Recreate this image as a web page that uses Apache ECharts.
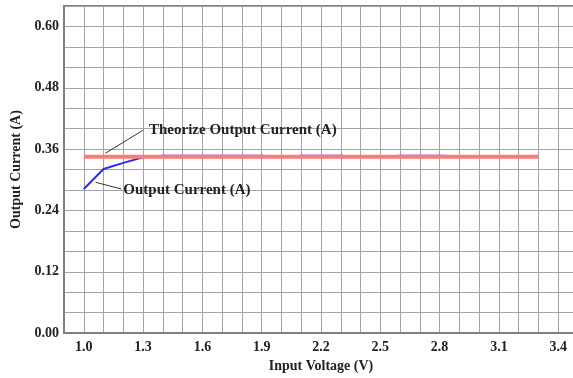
<!DOCTYPE html>
<html>
<head>
<meta charset="utf-8">
<script src="https://cdn.jsdelivr.net/npm/echarts@6/dist/echarts.min.js"></script>
<style>
  html, body { margin: 0; padding: 0; background: #fff; overflow: hidden; }
  #main { width: 592px; height: 378px; }
</style>
</head>
<body>
<div id="main"></div>
<script>
// input voltage (V) for measured output current
var voltage = [1.0, 1.1, 1.2, 1.3, 1.4, 1.5, 1.6, 1.7, 1.8, 1.9, 2.0, 2.1, 2.2, 2.3, 2.4, 2.5, 2.6, 2.7, 2.8, 2.9, 3.0];
var outputCurrent = [0.282, 0.321, 0.333, 0.344, 0.347, 0.347, 0.347, 0.347, 0.347, 0.347, 0.345, 0.347, 0.347, 0.347, 0.345, 0.345, 0.347, 0.347, 0.347, 0.346, 0.346];
// theoretical output current
var theoryVoltage = [1.0, 3.3];
var theoryCurrent = [0.345, 0.345];

var font = "'Liberation Serif', 'Times New Roman', serif";
var myChart = echarts.init(document.getElementById('main'));

function pairs(xs, ys) {
  return xs.map(function (x, i) { return [x, ys[i]]; });
}

const option = {
  backgroundColor: '#fff',
  animation: false,
  grid: {
    left: 64,
    top: 6,
    width: 514,
    height: 329,
    show: true,
    borderColor: '#808080',
    borderWidth: 2
  },
  xAxis: {
    type: 'value',
    min: 0.9,
    max: 3.5,
    interval: 0.1,
    name: 'Input Voltage (V)',
    nameLocation: 'middle',
    nameGap: 24,
    nameTextStyle: { fontFamily: font, fontWeight: 'bold', fontSize: 14, color: '#222' },
    axisLine: { lineStyle: { color: '#808080', width: 2 } },
    axisTick: { show: false },
    axisLabel: {
      margin: 7,
      fontFamily: font, fontWeight: 'bold', fontSize: 14, color: '#222',
      formatter: function (v) {
        var k = Math.round(v * 10);
        return k % 3 === 1 ? (k / 10).toFixed(1) : '';
      }
    },
    splitLine: { lineStyle: { color: '#a4a4a4', width: 1 } }
  },
  yAxis: {
    type: 'value',
    min: 0,
    max: 0.64,
    interval: 0.04,
    name: 'Output Current (A)',
    nameLocation: 'middle',
    nameGap: 38,
    nameTextStyle: { fontFamily: font, fontWeight: 'bold', fontSize: 14, color: '#222' },
    axisLine: { show: true, lineStyle: { color: '#808080', width: 2 } },
    axisTick: { show: false },
    axisLabel: {
      margin: 5,
      fontFamily: font, fontWeight: 'bold', fontSize: 14, color: '#222',
      formatter: function (v) {
        var k = Math.round(v * 100);
        return k % 12 === 0 ? (k / 100).toFixed(2) : '';
      }
    },
    splitLine: { lineStyle: { color: '#a4a4a4', width: 1 } }
  },
  series: [
    {
      name: 'Output Current (A)',
      type: 'line',
      data: pairs(voltage, outputCurrent),
      showSymbol: false,
      lineStyle: { color: '#2a2aff', width: 2 },
      z: 2
    },
    {
      name: 'Theorize Output Current (A)',
      type: 'line',
      data: pairs(theoryVoltage, theoryCurrent),
      showSymbol: false,
      lineStyle: { color: '#ff7b7b', width: 4 },
      z: 3
    }
  ]
};

myChart.setOption(option);

// annotation texts with leader lines, anchored in data space
var notes = [
  { text: 'Theorize Output Current (A)', from: [1.11, 0.352], to: [1.30, 0.397], at: [1.33, 0.397] },
  { text: 'Output Current (A)', from: [1.06, 0.295], to: [1.19, 0.282], at: [1.20, 0.280] }
];
var elements = [];
notes.forEach(function (n) {
  var p1 = myChart.convertToPixel({ gridIndex: 0 }, n.from);
  var p2 = myChart.convertToPixel({ gridIndex: 0 }, n.to);
  var pt = myChart.convertToPixel({ gridIndex: 0 }, n.at);
  elements.push({
    type: 'line',
    shape: { x1: p1[0], y1: p1[1], x2: p2[0], y2: p2[1] },
    style: { stroke: '#333', lineWidth: 1 },
    z: 10
  });
  elements.push({
    type: 'text',
    x: pt[0],
    y: pt[1],
    style: {
      text: n.text,
      font: 'bold 15px ' + font,
      fill: '#222',
      verticalAlign: 'middle',
      align: 'left'
    },
    z: 10
  });
});
myChart.setOption({ graphic: elements });

window.addEventListener('resize', () => {
  myChart.resize();
});
</script>
</body>
</html>
